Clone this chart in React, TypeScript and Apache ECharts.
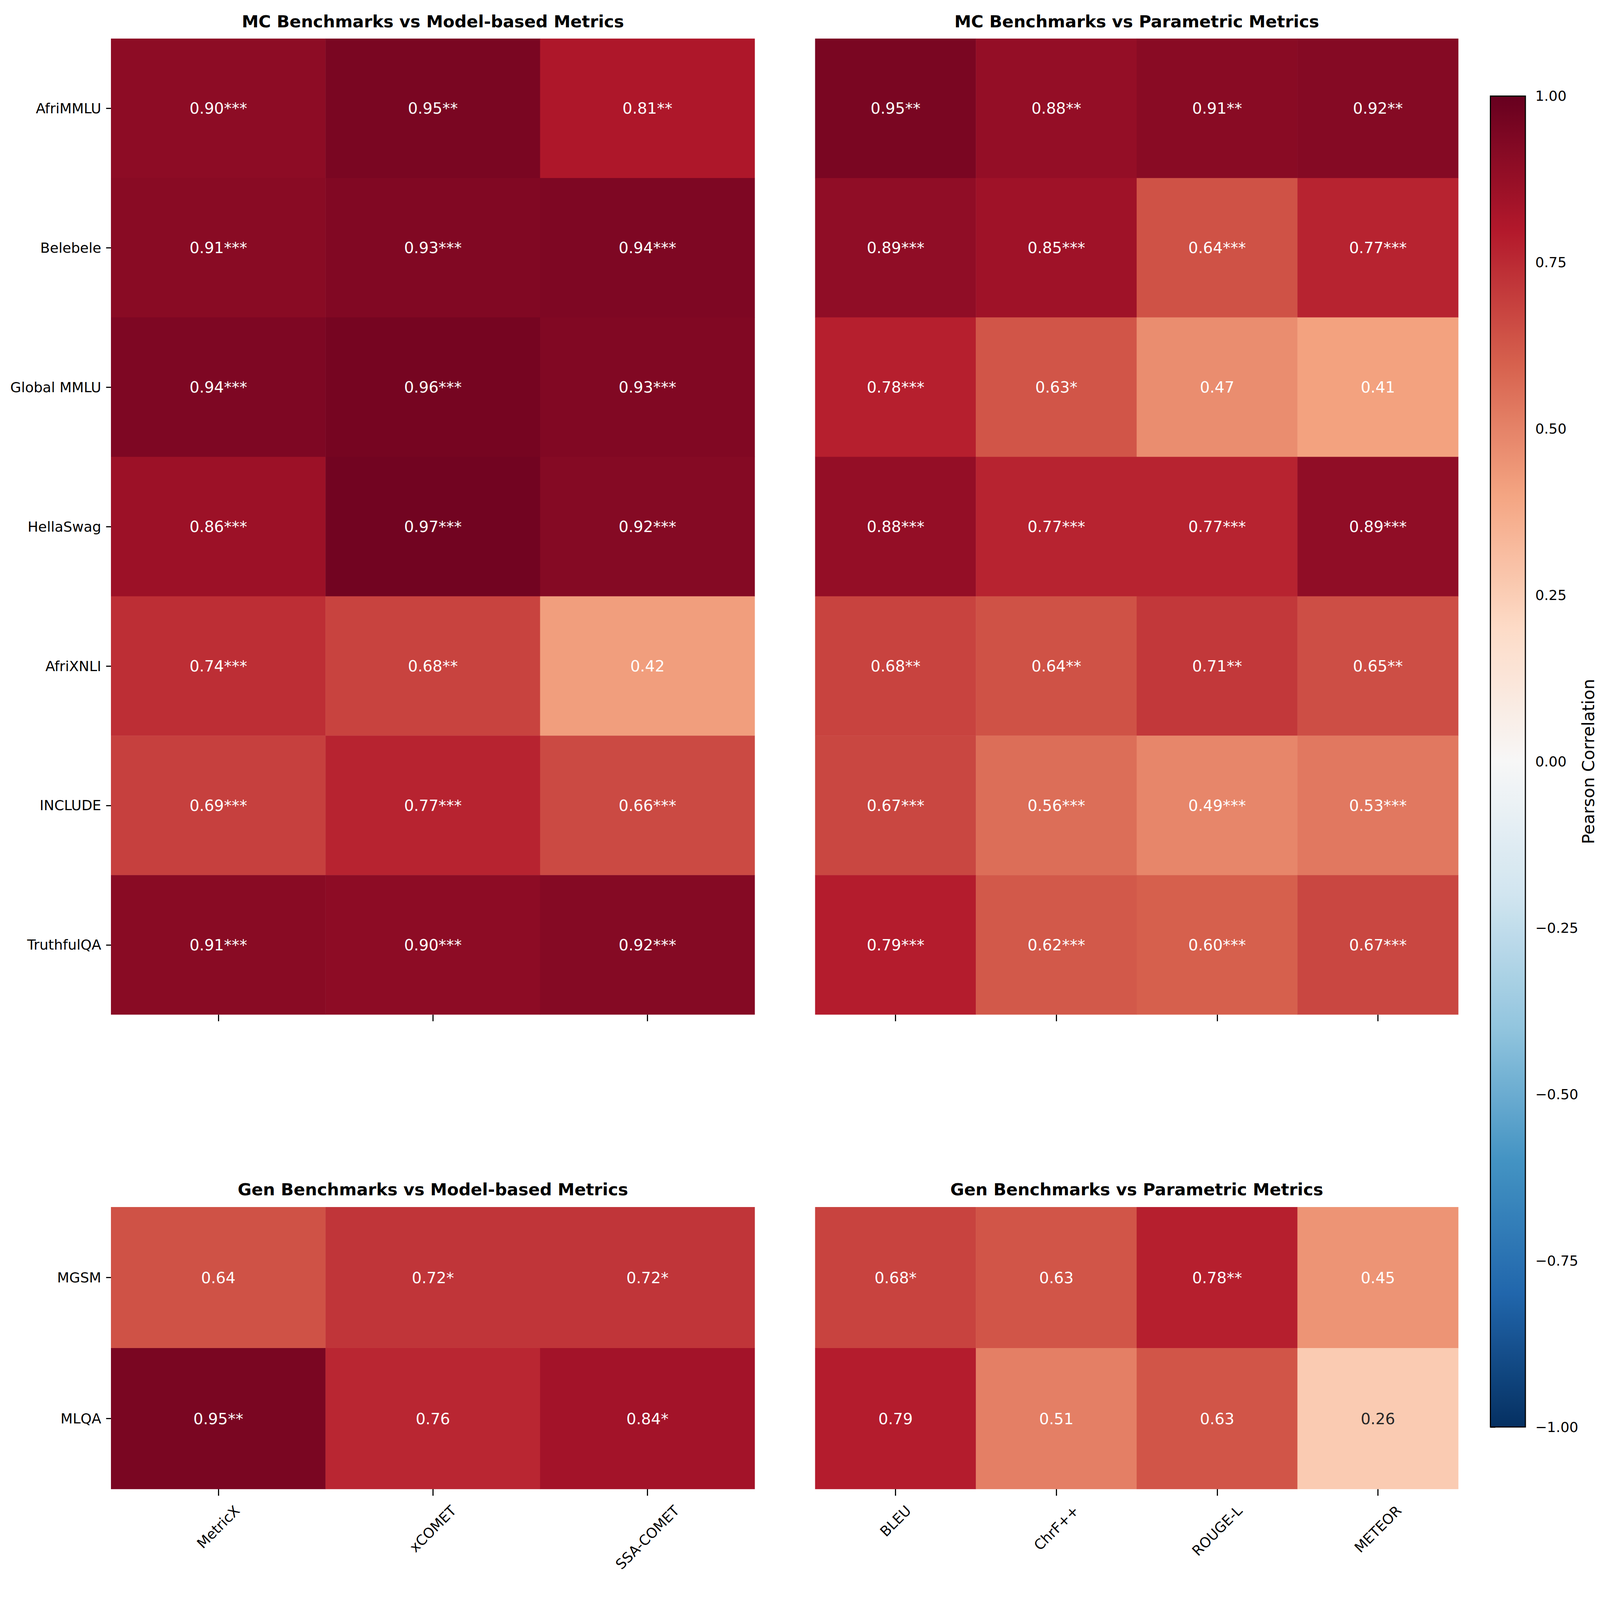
import React, { useEffect, useRef } from "react";
import * as echarts from "echarts";

const mcBenchmarks = ["AfriMMLU", "Belebele", "Global MMLU", "HellaSwag", "AfriXNLI", "INCLUDE", "TruthfulQA"];
const genBenchmarks = ["MGSM", "MLQA"];
const modelMetrics = ["MetricX", "xCOMET", "SSA-COMET"];
const paramMetrics = ["BLEU", "ChrF++", "ROUGE-L", "METEOR"];

const mcModelValues = [
  [0.90, 0.95, 0.81],
  [0.91, 0.93, 0.94],
  [0.94, 0.96, 0.93],
  [0.86, 0.97, 0.92],
  [0.74, 0.68, 0.42],
  [0.69, 0.77, 0.66],
  [0.91, 0.90, 0.92],
];
const mcModelStars = [
  ["***", "**", "**"],
  ["***", "***", "***"],
  ["***", "***", "***"],
  ["***", "***", "***"],
  ["***", "**", ""],
  ["***", "***", "***"],
  ["***", "***", "***"],
];
const mcParamValues = [
  [0.95, 0.88, 0.91, 0.92],
  [0.89, 0.85, 0.64, 0.77],
  [0.78, 0.63, 0.47, 0.41],
  [0.88, 0.77, 0.77, 0.89],
  [0.68, 0.64, 0.71, 0.65],
  [0.67, 0.56, 0.49, 0.53],
  [0.79, 0.62, 0.60, 0.67],
];
const mcParamStars = [
  ["**", "**", "**", "**"],
  ["***", "***", "***", "***"],
  ["***", "*", "", ""],
  ["***", "***", "***", "***"],
  ["**", "**", "**", "**"],
  ["***", "***", "***", "***"],
  ["***", "***", "***", "***"],
];
const genModelValues = [
  [0.64, 0.72, 0.72],
  [0.95, 0.76, 0.84],
];
const genModelStars = [
  ["", "*", "*"],
  ["**", "", "*"],
];
const genParamValues = [
  [0.68, 0.63, 0.78, 0.45],
  [0.79, 0.51, 0.63, 0.26],
];
const genParamStars = [
  ["*", "", "**", ""],
  ["", "", "", ""],
];

const panelTitles = [
  "MC Benchmarks vs Model-based Metrics",
  "MC Benchmarks vs Parametric Metrics",
  "Gen Benchmarks vs Model-based Metrics",
  "Gen Benchmarks vs Parametric Metrics",
];
const colorbarName = "Pearson Correlation";
const colorbarMin = -1;
const colorbarMax = 1;
const colorbarStep = 0.25;

// RdBu_r (ColorBrewer RdBu reversed)
const rdbuR = ["#053061", "#2166ac", "#4393c3", "#92c5de", "#d1e5f0", "#f7f7f7", "#fddbc7", "#f4a582", "#d6604d", "#b2182b", "#67001f"];

const FONT = "DejaVu Sans";
const REF_W = 5533;
const REF_H = 4097;

function measure(text: string, size: number) {
  const c = document.createElement("canvas");
  const ctx = c.getContext("2d");
  if (!ctx) return text.length * size * 0.6;
  ctx.font = `${size}px "${FONT}"`;
  return ctx.measureText(text).width;
}

function buildData(values: number[][], stars: string[][]) {
  const out: any[] = [];
  values.forEach((row, y) =>
    row.forEach((v, x) => {
      out.push({
        value: [x, y, v],
        label: {
          formatter: v.toFixed(2) + stars[y][x],
          color: v < 0.3 && v > -0.3 ? "#262626" : "#ffffff",
        },
      });
    })
  );
  return out;
}

export default function App() {
  const ref = useRef<HTMLDivElement>(null);
  const W = Math.min(window.innerWidth || REF_W, REF_W);
  const H = Math.min(window.innerHeight || REF_H, REF_H);
  useEffect(() => {
    document.body.style.margin = "0";
    document.body.style.overflow = "hidden";
    if (!ref.current) return;
    const chart = echarts.init(ref.current, null, { renderer: "svg" });
    const kx = W / REF_W;
    const ky = H / REF_H;
    const kf = kx;
    const TICK_FS = 48.6 * kf;
    const ANNOT_FS = 53.5 * kf;
    const TITLE_FS = 58.3 * kf;
    const TICK_W = 3.9 * kf;

    const grids = [
      { left: 384, top: 99, width: 2226, height: 2499 },
      { left: 2819, top: 99, width: 2224, height: 2499 },
      { left: 384, top: 3091, width: 2226, height: 722 },
      { left: 2819, top: 3091, width: 2224, height: 722 },
      { left: 5154, top: 246, width: 121, height: 3408 },
    ].map((g) => ({ left: g.left * kx, top: g.top * ky, width: g.width * kx, height: g.height * ky }));
    const cols = [modelMetrics, paramMetrics, modelMetrics, paramMetrics];
    const rows = [mcBenchmarks, mcBenchmarks, genBenchmarks, genBenchmarks];

    const xTick = { show: true, alignWithLabel: true, length: 17 * ky, lineStyle: { color: "#000", width: TICK_W } };
    const yTick = { show: true, alignWithLabel: true, length: 17 * kx, lineStyle: { color: "#000", width: TICK_W } };

    const xAxes: any[] = cols.map((c, i) => ({
      type: "category",
      gridIndex: i,
      position: "bottom",
      data: c,
      axisLine: { show: false },
      axisTick: xTick,
      splitLine: { show: false },
      axisLabel: { show: false },
    }));
    xAxes.push({ type: "value", gridIndex: 4, show: false, min: 0, max: 1 });

    const yAxes: any[] = rows.map((r, i) => ({
      type: "category",
      gridIndex: i,
      inverse: true,
      data: r,
      axisLine: { show: false },
      axisTick: { ...yTick, show: i === 0 || i === 2 },
      splitLine: { show: false },
      axisLabel: {
        show: i === 0 || i === 2,
        margin: 34 * kx,
        fontSize: TICK_FS,
        fontFamily: FONT,
        color: "#000",
      },
    }));
    yAxes.push({
      type: "value",
      gridIndex: 4,
      position: "right",
      min: colorbarMin,
      max: colorbarMax,
      interval: colorbarStep,
      axisLine: { show: false },
      axisTick: { show: true, length: 17 * kx, lineStyle: { color: "#000", width: TICK_W } },
      splitLine: { show: false },
      axisLabel: {
        margin: 34 * kx,
        fontSize: TICK_FS,
        fontFamily: FONT,
        color: "#000",
        formatter: (v: number) => (v < 0 ? "\u2212" : "") + Math.abs(v).toFixed(2),
      },
      name: colorbarName,
      nameLocation: "middle",
      nameGap: 170 * kx,
      nameTextStyle: { fontSize: TITLE_FS, fontFamily: FONT, color: "#000" },
    });

    const datasets = [
      buildData(mcModelValues, mcModelStars),
      buildData(mcParamValues, mcParamStars),
      buildData(genModelValues, genModelStars),
      buildData(genParamValues, genParamStars),
    ];

    const series = datasets.map((d, i) => ({
      type: "heatmap",
      xAxisIndex: i,
      yAxisIndex: i,
      data: d,
      itemStyle: { borderWidth: 0 },
      label: { show: true, fontSize: ANNOT_FS, fontFamily: FONT, color: "#fff" },
      emphasis: { disabled: true },
    }));

    const titleY = [55 * ky, 55 * ky, 3046 * ky, 3046 * ky];

    const cb = grids[4];
    chart.setOption({
      animation: false,
      backgroundColor: "#ffffff",
      textStyle: { fontFamily: FONT },
      title: panelTitles.map((t, i) => ({
        text: t,
        left: grids[i].left + grids[i].width / 2,
        top: titleY[i],
        textAlign: "center",
        textVerticalAlign: "middle",
        padding: 0,
        textStyle: { fontSize: TITLE_FS, fontWeight: "bold", fontFamily: FONT, color: "#000" },
      })),
      grid: grids.map((g) => ({ ...g, containLabel: false })),
      xAxis: xAxes,
      yAxis: yAxes,
      visualMap: {
        type: "continuous",
        min: colorbarMin,
        max: colorbarMax,
        seriesIndex: [0, 1, 2, 3],
        dimension: 2,
        inRange: { color: rdbuR },
        left: cb.left,
        top: cb.top,
        itemWidth: cb.width,
        itemHeight: cb.height,
        padding: 0,
        calculable: false,
        hoverLink: false,
        orient: "vertical",
      },
      series,
    });

    // rotated x tick labels (rotation 45, centred under the tick like matplotlib)
    const lh = TICK_FS * 1.164;
    const graphics: any[] = [];
    [2, 3].forEach((gi) => {
      const g = grids[gi];
      cols[gi].forEach((name, idx) => {
        const px = chart.convertToPixel({ xAxisIndex: gi }, idx) as number;
        const w = measure(name, TICK_FS);
        const cy = g.top + g.height + 34 * ky + (w + lh) * 0.35355;
        graphics.push({
          type: "text",
          x: px,
          y: cy,
          rotation: Math.PI / 4,
          silent: true,
          style: {
            text: name,
            fontSize: TICK_FS,
            fontFamily: FONT,
            fill: "#000",
            align: "center",
            verticalAlign: "middle",
          },
        });
      });
    });
    graphics.push({
      type: "rect",
      z: 100,
      silent: true,
      shape: { x: cb.left, y: cb.top, width: cb.width, height: cb.height },
      style: { fill: "none", stroke: "#000", lineWidth: TICK_W },
    });
    chart.setOption({ graphic: graphics });

    return () => chart.dispose();
  }, []);
  return <div ref={ref} style={{ position: "absolute", left: 0, top: 0, width: W, height: H }} />;
}
